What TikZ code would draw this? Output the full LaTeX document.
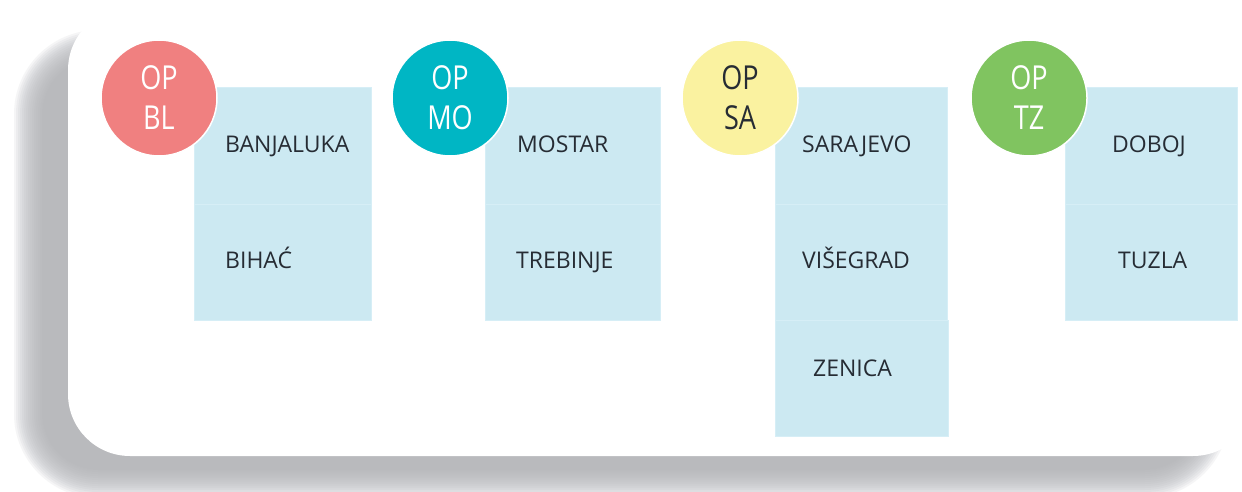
\documentclass[tikz,border=0pt]{standalone}
\usepackage{fontspec}
\setmainfont{Open Sans}
\newfontfamily\circfont[FakeStretch=0.82]{Open Sans}
\definecolor{boxblue}{RGB}{204,233,242}
\definecolor{boxedge}{RGB}{214,238,246}
\definecolor{salmonc}{RGB}{240,128,128}
\definecolor{tealc}{RGB}{0,182,196}
\definecolor{yellowc}{RGB}{250,242,160}
\definecolor{greenc}{RGB}{128,196,96}
\definecolor{shadowc}{RGB}{178,179,182}
\definecolor{textc}{RGB}{38,44,52}
\begin{document}
\begin{tikzpicture}[x=1pt,y=-1pt,
  box/.style={rectangle, fill=boxblue, draw=boxedge, line width=0.8pt, anchor=north west, inner sep=0pt},
  opcircle/.style={circle, draw=white, line width=1.5pt, minimum size=116pt, inner sep=0pt,
     align=center, text=white, font=\circfont\fontsize{33}{40}\selectfont},
  city/.style={anchor=base west, inner sep=0pt, text=textc, font=\fontsize{23}{26}\selectfont}]
\useasboundingbox (0,0) rectangle (1242,492);
\clip (0,0) rectangle (1242,492);
\fill[white] (0,0) rectangle (1242,492);
% blurred shadow
\foreach \d in {-14,-12,...,14}{
  \pgfmathsetmacro\rr{max(70-\d,10)}
  \fill[shadowc, opacity=0.12, rounded corners=\rr pt] (28+\d,44+\d) rectangle (1215-\d,484-\d);
}
% card
\fill[white, rounded corners=62pt] (68,8) rectangle (1255,456);

% boxes
\node[box, minimum width=177pt, minimum height=116.5pt] (bl1) at (194,87) {};
\node[box, minimum width=177pt, minimum height=116.5pt] (bl2) at (194,203.5) {};
\node[box, minimum width=175pt, minimum height=116.5pt] (mo1) at (485,87) {};
\node[box, minimum width=175pt, minimum height=116.5pt] (mo2) at (485,203.5) {};
\node[box, minimum width=172pt, minimum height=116.5pt] (sa1) at (775,87) {};
\node[box, minimum width=172pt, minimum height=116.5pt] (sa2) at (775,203.5) {};
\node[box, minimum width=173pt, minimum height=116pt] (sa3) at (775,319.5) {};
\node[box, minimum width=172pt, minimum height=116.5pt] (tz1) at (1065,87) {};
\node[box, minimum width=172pt, minimum height=116.5pt] (tz2) at (1065,203.5) {};

% city names
\node[city] (banjaluka) at (225,153) {BANJALUKA};
\node[city] (bihac) at (225,268) {BIHAĆ};
\node[city] (mostar) at (517,153) {MOSTAR};
\node[city] (trebinje) at (516,268) {TREBINJE};
\node[city] (sarajevo) at (802,153) {SARAJEVO};
\node[city] (visegrad) at (802,268) {VIŠEGRAD};
\node[city] (zenica) at (813,376) {ZENICA};
\node[city] (doboj) at (1112,153) {DOBOJ};
\node[city] (tuzla) at (1118,268) {TUZLA};

% circles
\node[opcircle, fill=salmonc] (opbl) at (159,98) {OP\\BL};
\node[opcircle, fill=tealc] (opmo) at (450,98) {OP\\MO};
\node[opcircle, fill=yellowc, text=textc] (opsa) at (740,98) {OP\\SA};
\node[opcircle, fill=greenc] (optz) at (1029,98) {OP\\TZ};
\end{tikzpicture}
\end{document}
